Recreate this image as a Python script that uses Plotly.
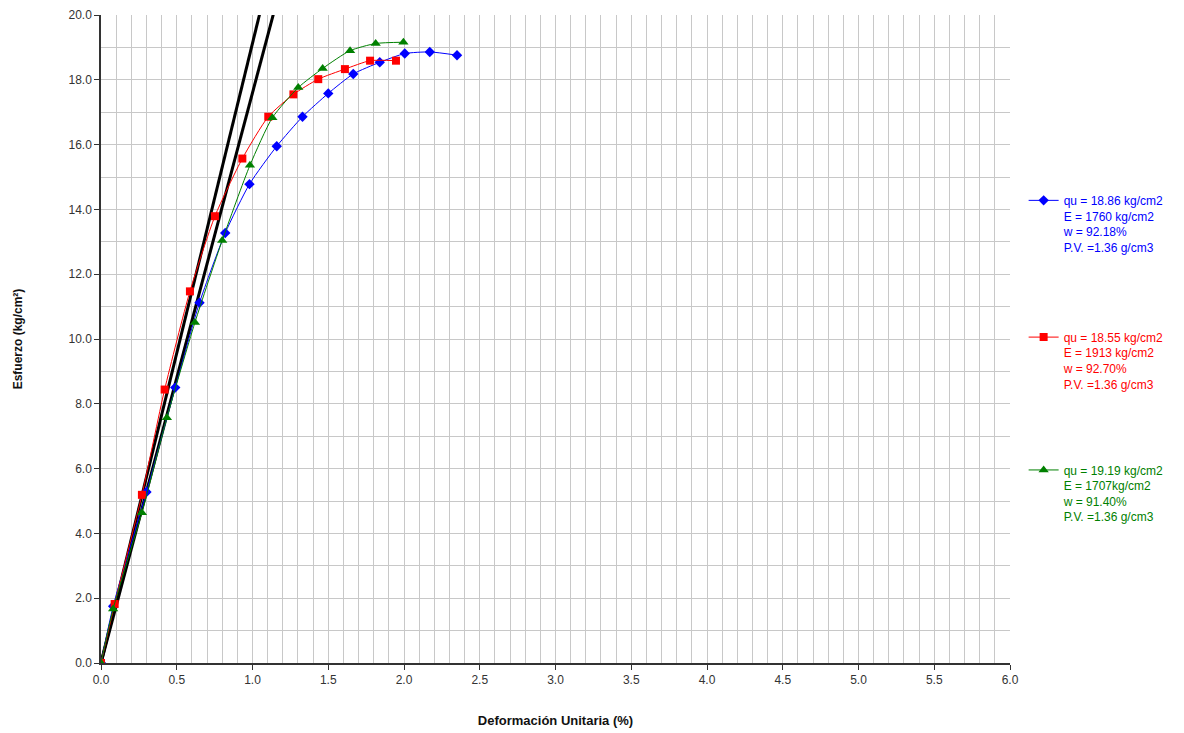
import plotly.graph_objects as go

# Blue series (qu = 18.86)
blue_x = [0.0, 0.08, 0.30, 0.49, 0.65, 0.82, 0.98, 1.16, 1.33, 1.50, 1.665, 1.84, 2.005, 2.17, 2.35]
blue_y = [0.0, 1.75, 5.28, 8.50, 11.12, 13.27, 14.78, 15.95, 16.86, 17.58, 18.18, 18.54, 18.81, 18.86, 18.76]
# Red series (qu = 18.55)
red_x = [0.0, 0.09, 0.27, 0.42, 0.587, 0.752, 0.933, 1.104, 1.27, 1.434, 1.61, 1.776, 1.947]
red_y = [0.0, 1.82, 5.19, 8.44, 11.47, 13.79, 15.57, 16.86, 17.55, 18.02, 18.33, 18.59, 18.59]
# Green series (qu = 19.19)
green_x = [0.0, 0.08, 0.27, 0.435, 0.62, 0.80, 0.983, 1.131, 1.302, 1.463, 1.644, 1.813, 1.996]
green_y = [0.0, 1.67, 4.64, 7.57, 10.51, 13.04, 15.36, 16.83, 17.76, 18.35, 18.90, 19.12, 19.16]

# Elastic modulus tangent lines (kg/cm2); slope per % strain = E/100
moduli = [1913, 1760]
y_top = 20.0

blue_name = "qu = 18.86 kg/cm2<br>E = 1760 kg/cm2<br>w = 92.18%<br>P.V. =1.36 g/cm3"
red_name = "qu = 18.55 kg/cm2<br>E = 1913 kg/cm2<br>w = 92.70%<br>P.V. =1.36 g/cm3"
green_name = "qu = 19.19 kg/cm2<br>E = 1707kg/cm2<br>w = 91.40%<br>P.V. =1.36 g/cm3"

x_ticks = [i * 0.5 for i in range(13)]
x_tick_labels = [f"{v:.1f}" for v in x_ticks]
y_ticks = [i * 2.0 for i in range(11)]
y_tick_labels = [f"{v:.1f}" for v in y_ticks]

fig = go.Figure()

for E in moduli:
    slope = E / 100.0
    fig.add_trace(go.Scatter(
        x=[0.0, y_top / slope * 1.02], y=[0.0, y_top * 1.02], mode="lines",
        line=dict(color="black", width=3), showlegend=False, hoverinfo="skip"))

fig.add_trace(go.Scatter(
    x=blue_x, y=blue_y, mode="lines+markers", name=blue_name,
    line=dict(color="#0000ff", width=1, shape="spline", smoothing=0.6),
    marker=dict(symbol="diamond", size=8, color="#0000ff"), legend="legend"))
fig.add_trace(go.Scatter(
    x=red_x, y=red_y, mode="lines+markers", name=red_name,
    line=dict(color="#ff0000", width=1, shape="spline", smoothing=0.6),
    marker=dict(symbol="square", size=8, color="#ff0000"), legend="legend2"))
fig.add_trace(go.Scatter(
    x=green_x, y=green_y, mode="lines+markers", name=green_name,
    line=dict(color="#008000", width=1, shape="spline", smoothing=0.6),
    marker=dict(symbol="triangle-up", size=9, color="#008000"), legend="legend3"))

font_family = "Liberation Sans, Arial, sans-serif"
leg_common = dict(xanchor="left", yanchor="top", bgcolor="rgba(0,0,0,0)",
                  borderwidth=0, itemwidth=30, tracegroupgap=0, valign="top")

fig.update_layout(
    width=1170, height=720,
    margin=dict(l=93, r=168, t=7, b=65, autoexpand=False),
    paper_bgcolor="white", plot_bgcolor="white",
    font=dict(family=font_family, size=12, color="#333333"),
    xaxis=dict(
        range=[0, 6.0], tickvals=x_ticks, ticktext=x_tick_labels,
        showgrid=True, gridcolor="#c8c8c8", gridwidth=1,
        minor=dict(dtick=0.1, showgrid=True, gridcolor="#c8c8c8", gridwidth=1),
        showline=True, linecolor="#333333", linewidth=1.5,
        ticks="outside", ticklen=5, tickcolor="#333333", automargin=False,
        zeroline=False, tickfont=dict(size=12, color="#333333"),
        title=dict(text="<b>Deformación Unitaria (%)</b>", font=dict(size=13, color="#111111"), standoff=31),
    ),
    yaxis=dict(
        range=[0, 20.0], tickvals=y_ticks, ticktext=y_tick_labels,
        showgrid=True, gridcolor="#c8c8c8", gridwidth=1,
        minor=dict(dtick=1.0, showgrid=True, gridcolor="#c8c8c8", gridwidth=1),
        showline=True, linecolor="#333333", linewidth=1.5,
        ticks="outside", ticklen=5, tickcolor="#333333", automargin=False,
        zeroline=False, tickfont=dict(size=12, color="#333333"),
        title=dict(text="<b>Esfuerzo (kg/cm²)</b>", font=dict(size=12, color="#111111"), standoff=43),
    ),
    legend=dict(x=1.015, y=0.736, font=dict(size=12, color="#0000ff", family=font_family), **leg_common),
    legend2=dict(x=1.015, y=0.525, font=dict(size=12, color="#ff0000", family=font_family), **leg_common),
    legend3=dict(x=1.015, y=0.320, font=dict(size=12, color="#008000", family=font_family), **leg_common),
)

fig.write_html("out.html")
